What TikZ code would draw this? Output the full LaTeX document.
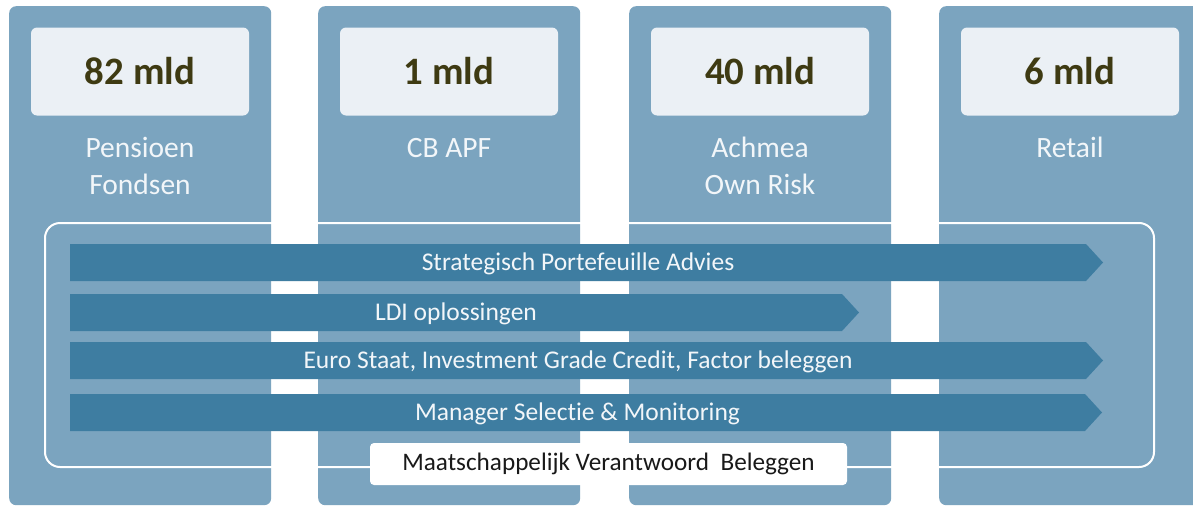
\documentclass[tikz,border=0pt]{standalone}
\usepackage{fontspec}
\setmainfont{Carlito}[Ligatures=NoCommon]
\usepackage{tikz}
\definecolor{colblue}{RGB}{123,164,191}
\definecolor{bandblue}{RGB}{62,125,161}
\definecolor{boxgrey}{RGB}{235,240,245}
\definecolor{amtdark}{RGB}{62,58,18}
\definecolor{lblwhite}{RGB}{242,246,249}
\tikzset{
  col/.style={fill=colblue, rounded corners=7pt, minimum width=262pt, minimum height=499pt, inner sep=0pt},
  amtbox/.style={fill=boxgrey, rounded corners=6pt, minimum width=218pt, minimum height=88pt, text=amtdark,
    font=\fontsize{38.8}{44}\selectfont\bfseries},
  tag/.style={text=lblwhite, align=center, font=\fontsize{29.5}{37}\selectfont},
  band/.style={fill=bandblue},
  bandtext/.style={text=lblwhite, font=\fontsize{25.5}{30}\selectfont},
  frame/.style={draw=white, line width=2pt, rounded corners=15pt},
  sri/.style={fill=white, rounded corners=4pt, minimum width=477pt, minimum height=42pt, text=black!90,
    font=\fontsize{25.2}{30}\selectfont}
}

\begin{document}
\begin{tikzpicture}[x=1pt, y=-1pt]

\useasboundingbox[fill=white] (0,0) rectangle (1193,506);
\clip (0,0) rectangle (1193,506);

% columns
\foreach \i/\xl/\yb/\amt/\lbl in {1/9/194/82 mld/{Pensioen\\Fondsen}, 2/318/157/1 mld/CB APF,
    3/629/194/40 mld/{Achmea\\Own Risk}, 4/939/157/6 mld/Retail} {
  \node[col, anchor=north west] (col\i) at (\xl,6) {};
  \node[amtbox] (amt\i) at (\xl+131,71.5) {\amt};
  \node[tag, anchor=base] (lbl\i) at (\xl+131,\yb) {\lbl};
}

\draw[frame] (45,223) rectangle (1154,467);

% services
\foreach \y/\xe/\txt in {244/1086/Strategisch Portefeuille Advies, 294/842/LDI oplossingen,
    342/1086/{Euro Staat, Investment Grade Credit, Factor beleggen},
    394/1085/Manager Selectie \& Monitoring} {
  \fill[band] (70,\y) -- (\xe,\y) -- (\xe+17,\y+18.5) -- (\xe,\y+37) -- (70,\y+37) -- cycle;
  \node[bandtext] (band\y) at ({(70+\xe)/2},\y+19.5) {\txt};
}

\node[sri] (mvb) at (608.5,464) {Maatschappelijk Verantwoord\ \ Beleggen};

\end{tikzpicture}
\end{document}
